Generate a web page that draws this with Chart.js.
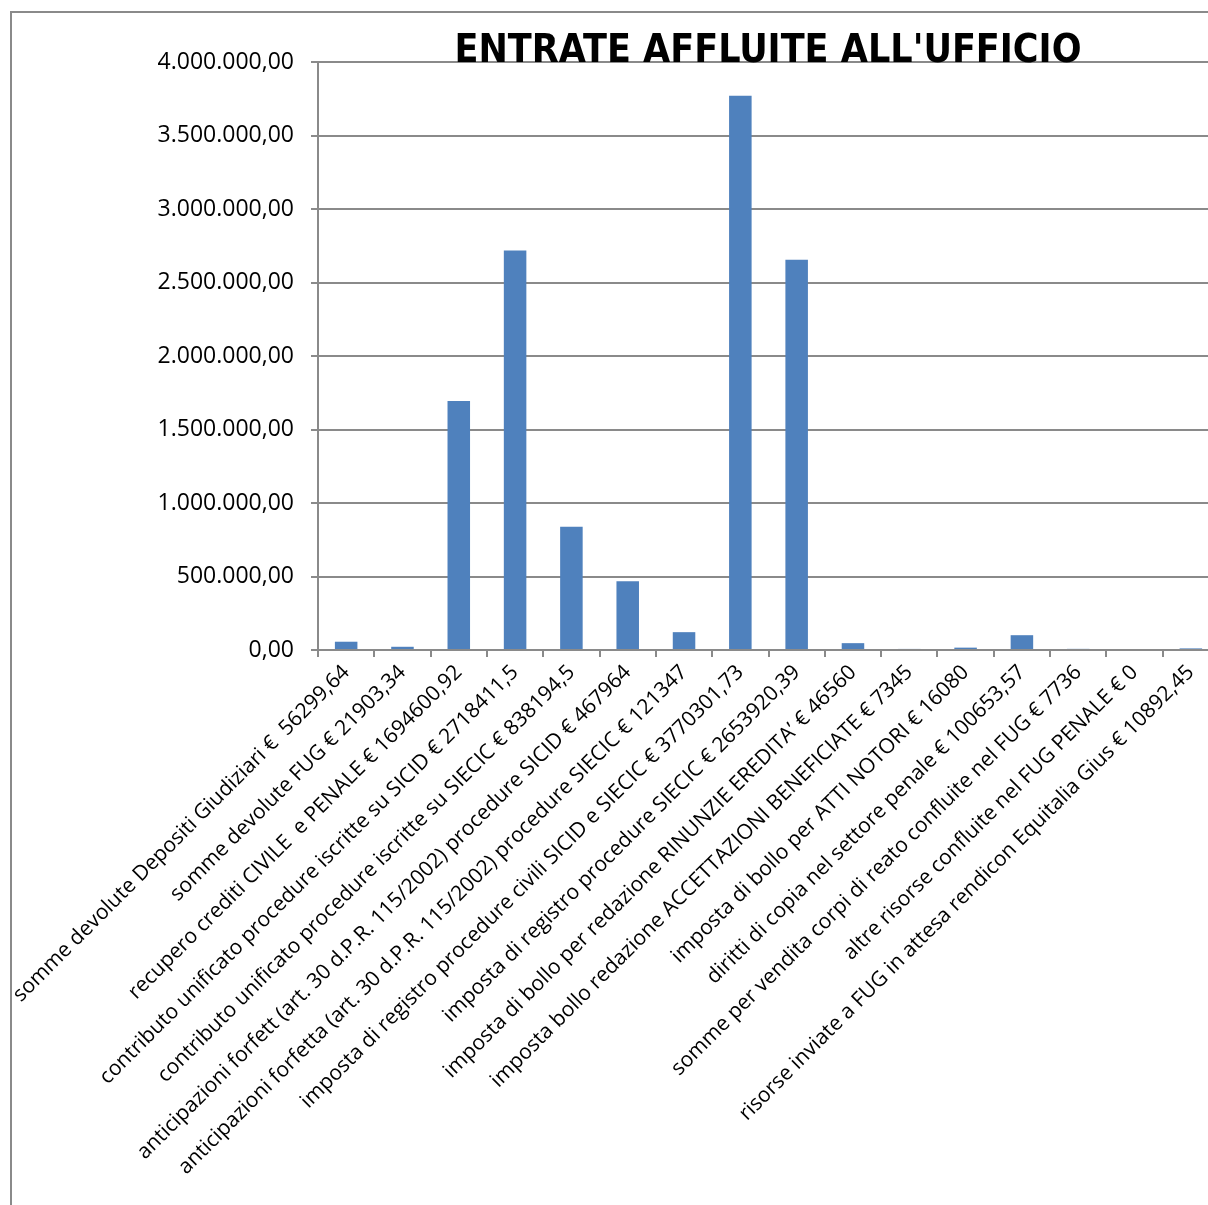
<!DOCTYPE html>
<html>
<head>
<meta charset="utf-8">
<script src="https://cdn.jsdelivr.net/npm/chart.js@4/dist/chart.umd.min.js"></script>
<style>
  html, body { margin: 0; background: #fff; overflow: hidden; }
  canvas { display: block; }
</style>
</head>
<body>
<!-- the plot runs a little past the right edge of the window -->
<canvas id="entrate" width="1219" height="1205"></canvas>
<script>
// Entrate affluite all'ufficio, by voice of income (euro)
const voci = [
  'somme devolute Depositi Giudiziari €  56299,64',
  'somme devolute FUG € 21903,34',
  'recupero crediti CIVILE  e PENALE € 1694600,92',
  'contributo unificato procedure iscritte su SICID € 2718411,5',
  'contributo unificato procedure iscritte su SIECIC € 838194,5',
  'anticipazioni forfett (art. 30 d.P.R. 115/2002) procedure SICID € 467964',
  'anticipazioni forfetta (art. 30 d.P.R. 115/2002) procedure SIECIC € 121347',
  'imposta di registro procedure civili SICID e SIECIC € 3770301,73',
  'imposta di registro procedure SIECIC € 2653920,39',
  'imposta di bollo per redazione RINUNZIE EREDITA’ € 46560',
  'imposta bollo redazione ACCETTAZIONI BENEFICIATE € 7345',
  'imposta di bollo per ATTI NOTORI € 16080',
  'diritti di copia nel settore penale € 100653,57',
  'somme per vendita corpi di reato confluite nel FUG € 7736',
  'altre risorse confluite nel FUG PENALE € 0',
  'risorse inviate a FUG in attesa rendicon Equitalia Gius € 10892,45'
];
const importi = [
  56299.64, 21903.34, 1694600.92, 2718411.5, 838194.5, 467964, 121347,
  3770301.73, 2653920.39, 46560, 7345, 16080, 100653.57, 7736, 0, 10892.45
];
const titolo = "ENTRATE AFFLUITE ALL'UFFICIO";
const yMax = 4000000;
const yStep = 500000;

// 4000000 -> "4.000.000,00"
function euro(v) {
  const s = Math.round(v).toString().replace(/\B(?=(\d{3})+(?!\d))/g, '.');
  return s + ',00';
}

const cornice = {
  id: 'cornice',
  beforeDraw(chart) {
    const ctx = chart.ctx;
    ctx.save();
    ctx.fillStyle = '#fff';
    ctx.fillRect(0, 0, chart.width, chart.height);
    ctx.strokeStyle = '#8a8a8a';
    ctx.lineWidth = 2;
    ctx.beginPath();
    ctx.moveTo(11, chart.height);
    ctx.lineTo(11, 12);
    ctx.lineTo(chart.width, 12);
    ctx.stroke();
    ctx.restore();
  },
  afterDraw(chart) {
    const ctx = chart.ctx;
    ctx.save();
    ctx.fillStyle = '#000';
    ctx.font = 'bold 39px "Liberation Sans Narrow", "DejaVu Sans Condensed", sans-serif';
    ctx.textAlign = 'center';
    ctx.textBaseline = 'alphabetic';
    ctx.fillText(titolo, 768, 62);
    ctx.restore();
  }
};

new Chart(document.getElementById('entrate'), {
  type: 'bar',
  data: {
    labels: voci,
    datasets: [{
      data: importi,
      backgroundColor: '#4f81bd',
      borderWidth: 0,
      categoryPercentage: 1,
      barPercentage: 0.4
    }]
  },
  options: {
    responsive: false,
    animation: false,
    devicePixelRatio: 1,
    layout: { padding: { top: 62, left: 11, right: 0, bottom: 0 } },
    plugins: { legend: { display: false }, tooltip: { enabled: false } },
    scales: {
      x: {
        offset: true,
        afterFit(scale) { scale.height = 555; },
        grid: { offset: true, drawOnChartArea: false, drawTicks: true, tickLength: 7, color: '#8a8a8a', lineWidth: 2 },
        border: { color: '#8a8a8a', width: 2 },
        ticks: {
          autoSkip: false,
          maxRotation: 45,
          minRotation: 45,
          padding: 3,
          color: '#000',
          font: { family: '"Open Sans"', size: 21 }
        }
      },
      y: {
        min: 0,
        max: yMax,
        afterFit(scale) { scale.width = 307; },
        grid: { color: '#8a8a8a', lineWidth: 2, tickLength: 7 },
        border: { color: '#8a8a8a', width: 2 },
        ticks: {
          stepSize: yStep,
          padding: 17,
          color: '#000',
          font: { family: '"Open Sans"', size: 23 },
          callback: v => euro(v)
        }
      }
    }
  },
  plugins: [cornice]
});
</script>
</body>
</html>
